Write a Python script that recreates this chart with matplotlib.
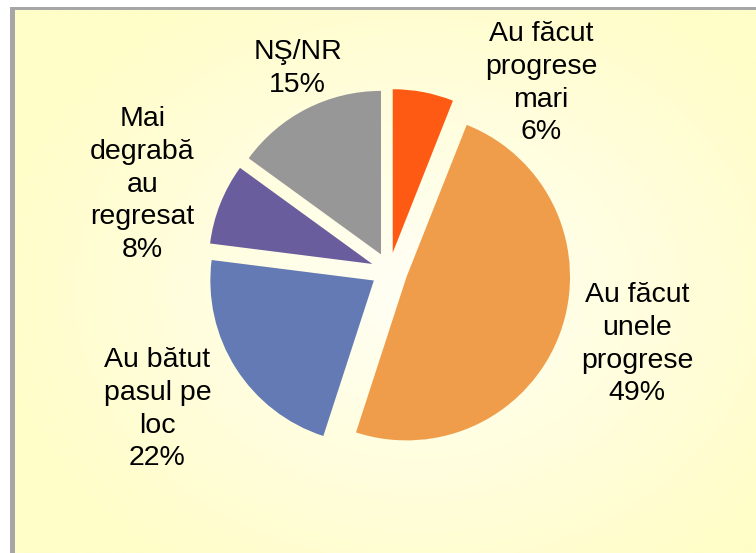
import numpy as np
import matplotlib
matplotlib.use("Agg")
import matplotlib.pyplot as plt
from matplotlib.patches import Rectangle

plt.rcParams["font.family"] = ["Liberation Sans", "DejaVu Sans"]

# Date
etichete = ["Au făcut\nprogrese\nmari", "Au făcut\nunele\nprogrese", "Au bătut\npasul pe\nloc",
            "Mai\ndegrabă\nau\nregresat", "NŞ/NR"]
procente = [6, 49, 22, 8, 15]
culori = ["#FF5A14", "#F09D4B", "#647AB4", "#6A5D9D", "#979797"]

# Layout (pixeli, y in jos)
W, H = 756, 553
CENTRU = (389.3, 270.7)
RAZA = 163.5
pozitii_etichete = [(541, 41), (637, 302), (157.5, 367), (142.5, 126), (297.5, 59)]
PAS_RAND = 32.8

fig = plt.figure(figsize=(W / 100, H / 100), dpi=100)
ax = fig.add_axes([0, 0, 1, 1])

# Fundal galben cu gradient radial
xs = np.linspace(15, W, 300)
ys = np.linspace(10, H, 220)
X, Y = np.meshgrid(xs, ys)
r = np.clip(np.sqrt(((X - 420) / 430) ** 2 + ((Y - 290) / 340) ** 2), 0, 1)
c_centru = np.array([255, 255, 246]) / 255
c_margine = np.array([255, 253, 200]) / 255
img = c_centru + (c_margine - c_centru) * r[..., None]
ax.imshow(img, extent=(15, W, H, 10), origin="upper", aspect="auto", zorder=0)

# Chenar gri (sus si stanga)
ax.add_patch(Rectangle((10, 7), W - 10, 3.2, color="#A6A6A6", lw=0, zorder=1))
ax.add_patch(Rectangle((10, 7), 5, H - 7, color="#A6A6A6", lw=0, zorder=1))

# Axa y inversata: startangle=-90 si counterclock=True dau sens orar, de sus
ax.pie(
    procente,
    colors=culori,
    explode=[18.3] * len(procente),
    radius=RAZA,
    center=CENTRU,
    startangle=-90,
    counterclock=True,
    wedgeprops=dict(linewidth=0),
)

for (x, y), et, p in zip(pozitii_etichete, etichete, procente):
    randuri = et.split("\n") + [f"{p}%"]
    for i, rand in enumerate(randuri):
        ax.text(x, y + i * PAS_RAND, rand, ha="center", va="baseline",
                fontsize=20.5, color="black", zorder=3)

ax.set_xlim(0, W)
ax.set_ylim(H, 0)
ax.set_aspect("auto")
ax.axis("off")

fig.savefig("out.png", dpi=100, facecolor="white")
plt.close(fig)
